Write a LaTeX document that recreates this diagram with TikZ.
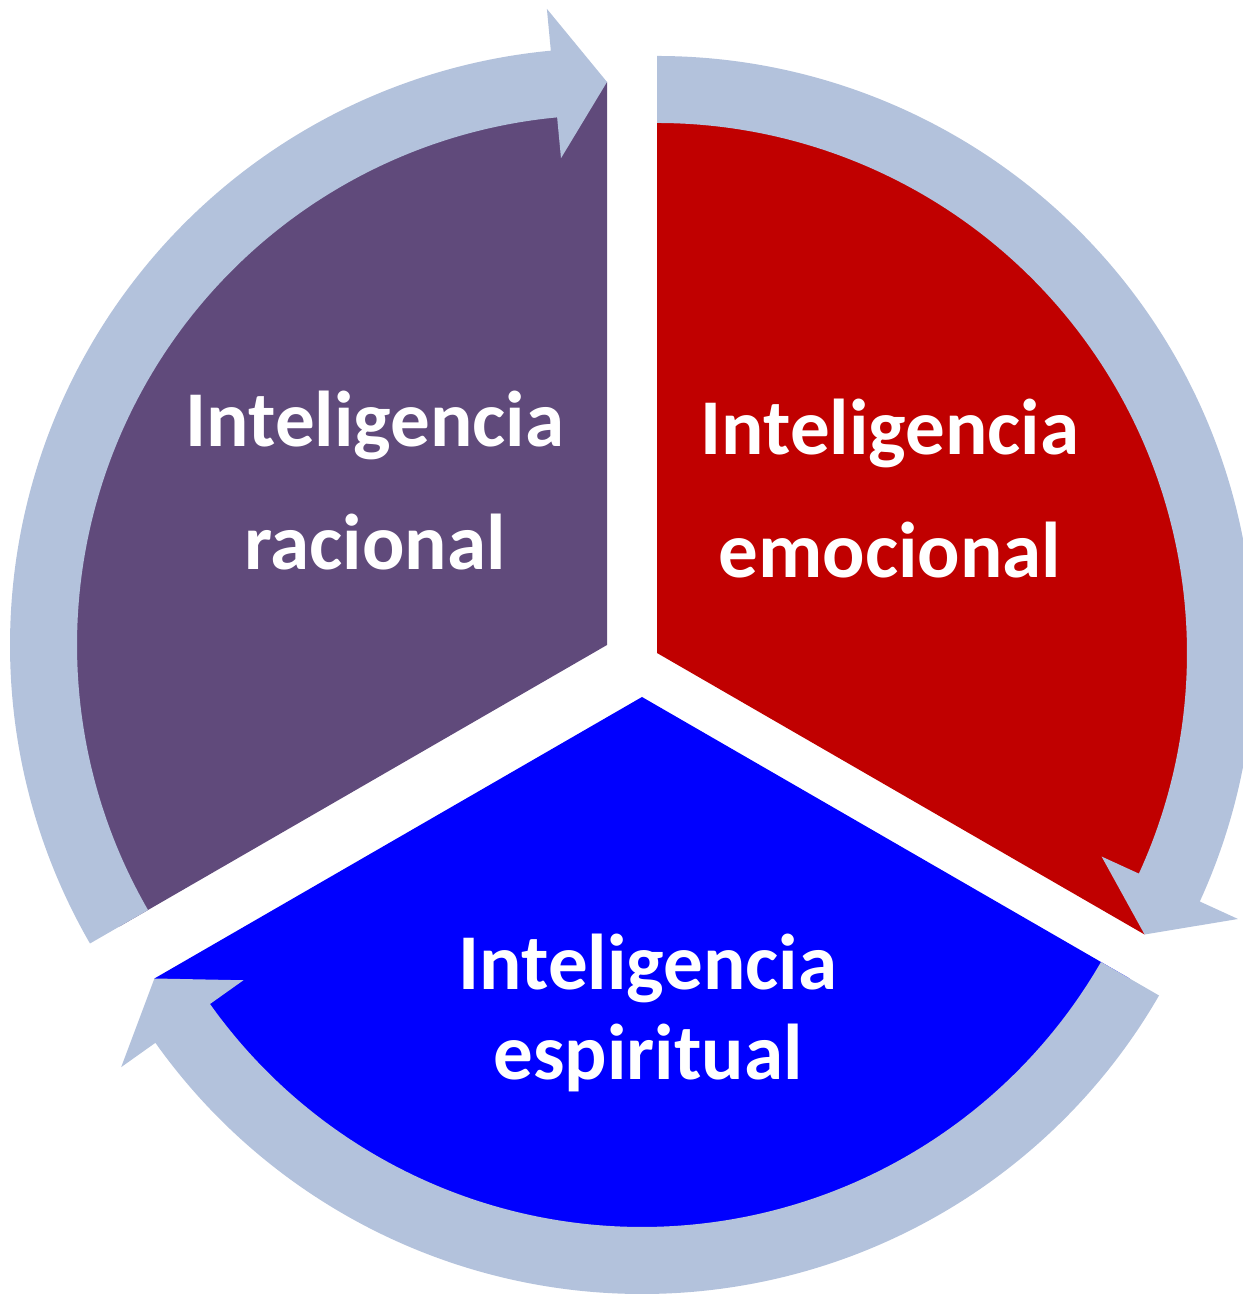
\documentclass[tikz,border=0pt]{standalone}
\usepackage{fontspec}
\setmainfont{Carlito}
\usepackage{xcolor}
\definecolor{racional}{HTML}{604A7B}
\definecolor{emocional}{HTML}{C00000}
\definecolor{espiritual}{HTML}{0000FF}
\definecolor{ciclo}{HTML}{B3C2DC}

\begin{document}
\begin{tikzpicture}[x=0.02cm,y=0.02cm]
      \useasboundingbox (0,0) rectangle (1243,1294);
      \tikzset{A/.style = {fill=ciclo}}
      \tikzset{T/.style = {text=white, align=center, inner sep=0pt,
          font=\bfseries\fontsize{45}{70.5}\selectfont}}
      % racional
      \begin{scope}[shift={(607,649)}]
        \fill[racional] (0,0) -- (90:563) arc[start angle=90,end angle=210,radius=563] -- cycle;
        \fill[A] (210:597) arc[start angle=210,end angle=95.4,radius=597] -- (95.4:639)
          -- (90:563) -- (95.4:489) -- (95.4:530) arc[start angle=95.4,end angle=210,radius=530] -- cycle;
      \end{scope}
      % emocional
      \begin{scope}[shift={(657,641)}]
        \fill[emocional] (0,0) -- (-30:563) arc[start angle=-30,end angle=90,radius=563] -- cycle;
        \fill[A] (90:597) arc[start angle=90,end angle=-24.6,radius=597] -- (-24.6:639)
          -- (-30:563) -- (-24.6:489) -- (-24.6:530) arc[start angle=-24.6,end angle=90,radius=530] -- cycle;
      \end{scope}
      % espiritual
      \begin{scope}[shift={(642,597)}]
        \fill[espiritual] (0,0) -- (210:563) arc[start angle=210,end angle=330,radius=563] -- cycle;
        \fill[A] (330:597) arc[start angle=330,end angle=215.4,radius=597] -- (215.4:639)
          -- (210:563) -- (215.4:489) -- (215.4:530) arc[start angle=215.4,end angle=330,radius=530] -- cycle;
      \end{scope}
      \node[T,anchor=base](tr) at (375,724) {Inteligencia\\racional};
      \node[T,anchor=base](te) at (890,716) {Inteligencia\\emocional};
      \node[T,anchor=base,font=\bfseries\fontsize{45}{51.5}\selectfont](ts) at (648,214) {Inteligencia\\espiritual};
    \end{tikzpicture}
\end{document}
